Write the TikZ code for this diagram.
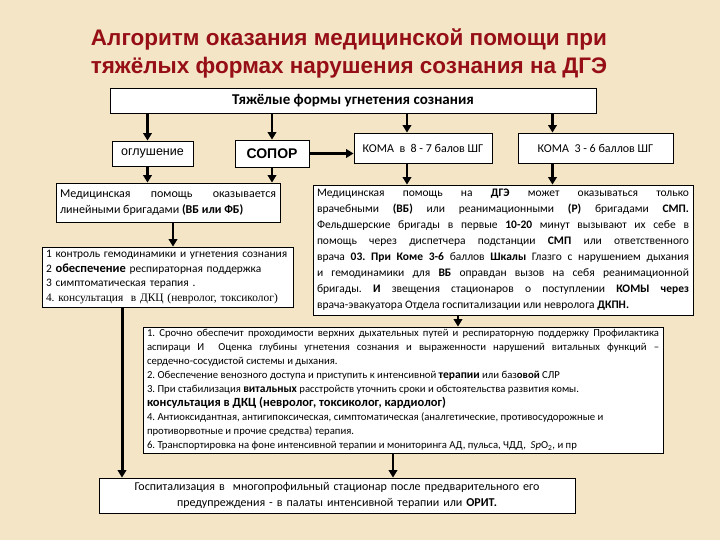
\documentclass[tikz,border=0pt]{standalone}
\usepackage{fontspec}
\setmainfont{Carlito}
\newfontfamily\headfont{Liberation Sans}
\newfontfamily\oldserif{Liberation Serif}
\usetikzlibrary{
    arrows.meta,
    calc,
    positioning
}
\definecolor{paper}{RGB}{243,229,197}
\definecolor{titlered}{RGB}{150,14,22}
\definecolor{ink}{RGB}{0,0,0}
\frenchspacing
\tikzset{
    stepbox/.style={
        rectangle,
        draw=ink,
        line width=0.8pt,
        fill=white,
        text=ink,
        inner xsep=4pt,
        inner ysep=2pt
    },
    textbox/.style={stepbox, align=justify},
    gradebox/.style={stepbox, align=center},
    flow/.style={
        -{Triangle[width=8.5pt,length=7.5pt]},
        draw=ink,
        line width=2.2pt
    },
    flowthick/.style={flow, line width=3pt},
    heading/.style={
        font=\headfont\bfseries\fontsize{22.5}{28}\selectfont,
        text=titlered,
        align=center
    }
}

\begin{document}
\begin{tikzpicture}[x=1pt, y=-1pt]

\fill[paper] (0,0) rectangle (720,540);
\useasboundingbox (0,0) rectangle (720,540);

% Title
\node[heading] (title) at (349,53) {Алгоритм оказания медицинской помощи при\\тяжёлых формах нарушения сознания на ДГЭ};

% Top box and grades
\node[gradebox, minimum width=486pt, minimum height=25pt, font=\bfseries\fontsize{15}{17}\selectfont] (forms) at (353,100.5) {Тяжёлые формы угнетения сознания};

\node[gradebox, minimum width=81pt, minimum height=25pt, font=\headfont\fontsize{12.5}{15}\selectfont] (stun) at (152.5,153.5) {оглушение};
\node[gradebox, minimum width=74pt, minimum height=27pt, font=\headfont\bfseries\fontsize{14}{15}\selectfont] (sopor) at (272,153.5) {СОПОР};
\node[gradebox, minimum width=138pt, minimum height=30pt, font=\fontsize{12}{14}\selectfont] (comaA) at (423,148) {КОМА \ в \ 8 - 7 балов ШГ};
\node[gradebox, minimum width=155pt, minimum height=30pt, font=\fontsize{12}{14}\selectfont] (comaB) at (595.5,148) {КОМА \ 3 - 6 баллов ШГ};

% Left branch
\node[textbox, text width=216pt, minimum height=39pt, font=\fontsize{12}{16}\selectfont] (linear) at (168,202.5) {Медицинская помощь оказывается\linebreak линейными бригадами \textbf{(ВБ или ФБ)}};

\node[stepbox, align=left, text width=243pt, minimum height=60pt, font=\fontsize{11.4}{14.5}\selectfont] (tasks) at (167.5,277) {1 контроль гемодинамики и угнетения сознания\\
2 {\fontsize{12.5}{14.5}\selectfont\bfseries обеспечение} респираторная поддержка\\
3 симптоматическая терапия .\\
{\oldserif 4. консультация \ в ДКЦ (невролог, токсиколог)}};

% Right branch
\node[textbox, text width=372pt, minimum height=130pt, font=\fontsize{11.5}{16}\selectfont] (dge) at (503,250) {Медицинская помощь на \textbf{ДГЭ} может оказываться только\linebreak
врачебными \textbf{(ВБ)} или реанимационными \textbf{(Р)} бригадами \textbf{СМП.}\linebreak
Фельдшерские бригады в первые \textbf{10-20} минут вызывают их себе в\linebreak
помощь через диспетчера подстанции \textbf{СМП} или ответственного\linebreak
врача \textbf{03. При Коме 3-6} баллов \textbf{Шкалы} Глазго с нарушением дыхания\linebreak
и гемодинамики для \textbf{ВБ} оправдан вызов на себя реанимационной\linebreak
бригады. \textbf{И} звещения стационаров о поступлении \textbf{КОМЫ через}\linebreak
врача-эвакуатора Отдела госпитализации или невролога \textbf{ДКПН.}};

\node[textbox, text width=512pt, minimum height=126pt, font=\fontsize{10.7}{14}\selectfont] (urgent) at (403,390) {1.~Срочно обеспечит проходимости верхних дыхательных путей и респираторную поддержку Профилактика\linebreak
аспираци И \ Оценка глубины угнетения сознания и выраженности нарушений витальных функций –\linebreak
сердечно-сосудистой системы и дыхания.\\
2. Обеспечение венозного доступа и приступить к интенсивной {\fontsize{11.5}{14}\selectfont\bfseries терапии} или баз\textbf{овой} СЛР\\
3. При стабилизация {\fontsize{11.5}{14}\selectfont\bfseries витальных} расстройств уточнить сроки и обстоятельства развития комы.\\
{\fontsize{12.5}{14}\selectfont\bfseries консультация в ДКЦ (невролог, токсиколог, кардиолог)}\\
4. Антиоксидантная, антигипоксическая, симптоматическая (аналгетические, противосудорожные и\\
противорвотные и прочие средства) терапия.\\
6. Транспортировка на фоне интенсивной терапии и мониторинга АД, пульса, ЧДД, \ {\itshape Sp}O\textsubscript{2}, и пр};

% Final box
\node[gradebox, text width=468pt, minimum height=35pt, font=\fontsize{12}{16}\selectfont] (hosp) at (337,495.5) {Госпитализация в \ многопрофильный стационар после предварительного его\\
предупреждения - в палаты интенсивной терапии или \textbf{ОРИТ.}};

% Connectors
\draw[flow] ($(forms.south -| stun.north)+(-5,0)$) -- ($(stun.north)+(-5,0)$);
\draw[flow] (forms.south -| sopor.north) -- (sopor.north);
\draw[flow] ($(forms.south -| comaA.north)+(-16,0)$) -- ($(comaA.north)+(-16,0)$);
\draw[flow] ($(forms.south -| comaB.north)+(-43,0)$) -- ($(comaB.north)+(-43,0)$);

\draw[flow] (sopor.east) -- (sopor.east -| comaA.west);

\draw[flow] ($(stun.south)+(-5,0)$) -- ($(linear.north -| stun.south)+(-5,0)$);
\draw[flow] (sopor.south) -- (linear.north -| sopor.south);
\draw[flow] ($(comaA.south)+(-16,0)$) -- ($(dge.north -| comaA.south)+(-16,0)$);
\draw[flow] ($(comaB.south)+(-43,0)$) -- ($(dge.north -| comaB.south)+(-43,0)$);

\draw[flow] ($(linear.south)+(5,0)$) -- ($(tasks.north -| linear.south)+(5,0)$);
\draw[flow] ($(dge.south)+(-45,0)$) -- ($(urgent.north -| dge.south)+(-45,0)$);

\draw[flowthick] ($(tasks.south)+(-45.5,0)$) -- ($(hosp.north -| tasks.south)+(-45.5,0)$);
\draw[flow] ($(urgent.south)+(-10,0)$) -- ($(hosp.north -| urgent.south)+(-10,0)$);

\end{tikzpicture}
\end{document}
